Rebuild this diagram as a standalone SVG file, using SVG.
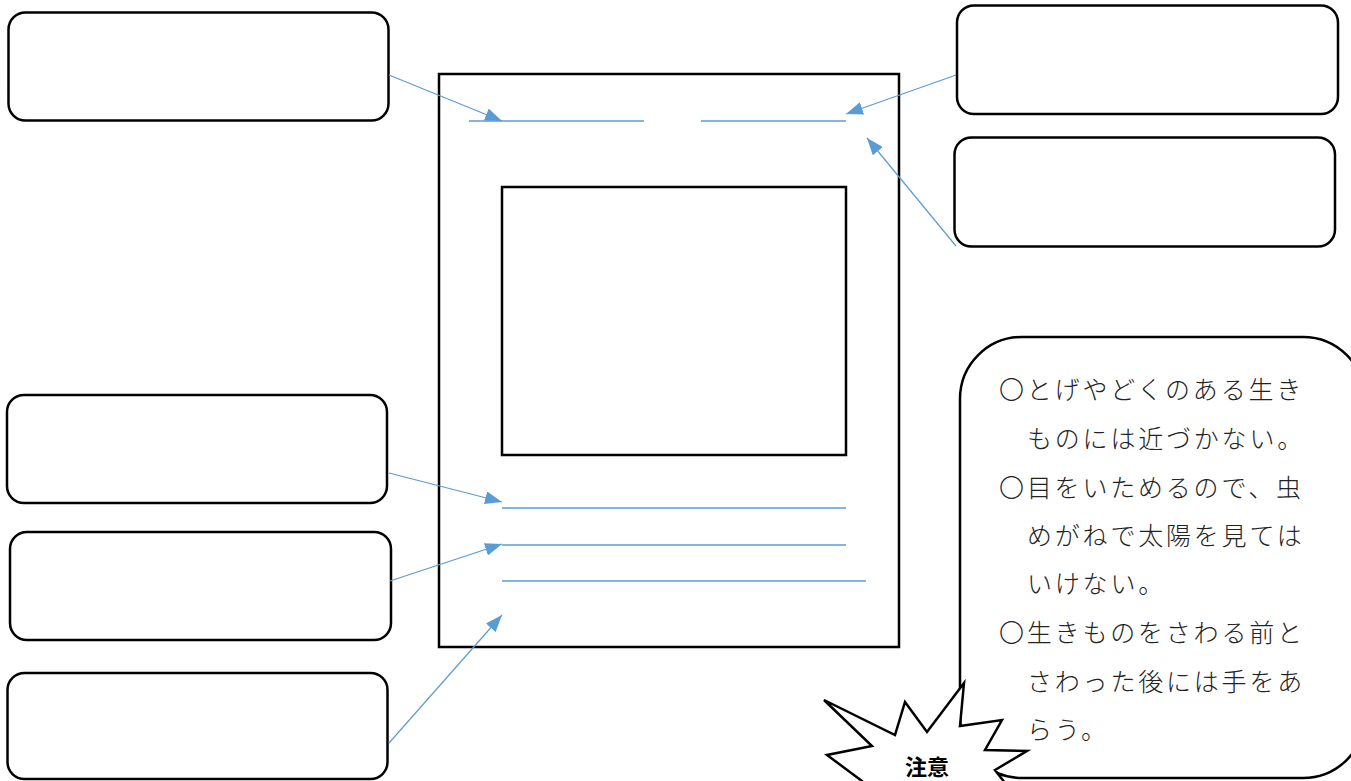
<svg xmlns="http://www.w3.org/2000/svg" width="1351" height="781" viewBox="0 0 1351 781">
<style>
.box{fill:#fff;stroke:#000;stroke-width:2.5}
.frame{fill:#fff;stroke:#000;stroke-width:2.5}
.bl{stroke:#5B9BD5;stroke-width:1.3;fill:none}
.conn{stroke:#5B9BD5;stroke-width:1.2;fill:none}
.txt{font-family:"Noto Sans CJK JP","Noto Sans CJK SC",sans-serif;font-size:25px;fill:#222;letter-spacing:2.8px;font-weight:300}
.ttl{font-family:"Noto Sans CJK JP","Noto Sans CJK SC",sans-serif;font-size:22px;font-weight:bold;fill:#000;text-anchor:middle}
</style>
<defs>
<marker id="ah" viewBox="0 0 17 13" refX="17" refY="6.5" markerWidth="17" markerHeight="13" markerUnits="userSpaceOnUse" orient="auto">
<path d="M0,0 L17,6.5 L0,13 Z" fill="#5B9BD5"/>
</marker>
</defs>
<rect width="1351" height="781" fill="#fff"/>
<g id="sheet">
<rect class="frame" x="439" y="74" width="460" height="573"/>
<rect class="frame" x="502" y="187" width="344" height="268"/>
<line class="bl" x1="469" y1="121" x2="644" y2="121"/>
<line class="bl" x1="701" y1="121" x2="846" y2="121"/>
<line class="bl" x1="502" y1="508" x2="846" y2="508"/>
<line class="bl" x1="502" y1="545" x2="846" y2="545"/>
<line class="bl" x1="502" y1="581" x2="866" y2="581"/>
</g>
<g id="box1"><rect class="box" x="8.5" y="12.5" width="380" height="108" rx="17"/></g>
<g id="box2"><rect class="box" x="7" y="395" width="380" height="108" rx="17"/></g>
<g id="box3"><rect class="box" x="10" y="532" width="381" height="108" rx="17"/></g>
<g id="box4"><rect class="box" x="7.5" y="673" width="380" height="106" rx="17"/></g>
<g id="box5"><rect class="box" x="957" y="5.5" width="381" height="108.5" rx="17"/></g>
<g id="box6"><rect class="box" x="954.5" y="137.5" width="380.5" height="109" rx="17"/></g>
<g id="connectors">
<line class="conn" x1="389" y1="75" x2="502" y2="121" marker-end="url(#ah)"/>
<line class="conn" x1="956" y1="75" x2="846" y2="114" marker-end="url(#ah)"/>
<line class="conn" x1="956" y1="246" x2="867" y2="138" marker-end="url(#ah)"/>
<line class="conn" x1="389" y1="473" x2="502" y2="502" marker-end="url(#ah)"/>
<line class="conn" x1="390" y1="581" x2="502" y2="544" marker-end="url(#ah)"/>
<line class="conn" x1="389" y1="743" x2="502" y2="615" marker-end="url(#ah)"/>
</g>
<g id="bubble">
<rect class="box" x="960" y="337" width="405" height="441" rx="62"/>
<text class="txt" x="999" y="399">〇とげやどくのある生き</text>
<text class="txt" x="1027" y="448">ものには近づかない。</text>
<text class="txt" x="999" y="497">〇目をいためるので、虫</text>
<text class="txt" x="1027" y="545">めがねで太陽を見ては</text>
<text class="txt" x="1027" y="593">いけない。</text>
<text class="txt" x="999" y="642">〇生きものをさわる前と</text>
<text class="txt" x="1027" y="691">さわった後には手をあ</text>
<text class="txt" x="1027" y="739">らう。</text>
</g>
<g id="star">
<polygon class="box" points="824,700 895,735 905,702 927,732 964,683 960,726 1002,720 985,750 1027,751 995,770 1012,792 940,800 866,792 862,781 827,755 872,746"/>
<text class="ttl" x="927" y="775">注意</text>
</g>
</svg>
